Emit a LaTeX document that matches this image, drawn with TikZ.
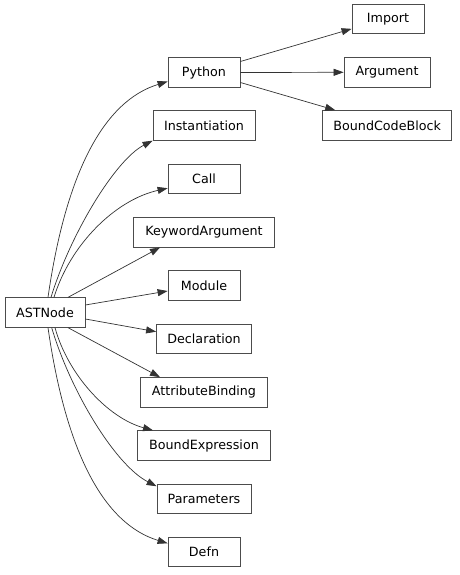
\documentclass[tikz,border=0pt]{standalone}
\usepackage{fontspec}
\setmainfont{DejaVu Sans}
\usetikzlibrary{arrows.meta}
\begin{document}
\begin{tikzpicture}[x=1pt,y=-1pt,
  box/.style={draw=black!70, line width=0.8pt, minimum height=29.5pt, inner sep=0pt,
    font=\fontsize{12.7}{14}\selectfont, text=black},
  edge/.style={draw=black!80, line width=0.7pt, -{Triangle[length=10pt,width=7pt]}}]
\path[use as bounding box] (0,0) rectangle (459,575);
\node[box, minimum width=80pt] (ast) at (45,312.5) {ASTNode};
\node[box, minimum width=72pt] (python) at (204,72.5) {Python};
\node[box, minimum width=102pt] (inst) at (204,125.5) {Instantiation};
\node[box, minimum width=72pt] (call) at (204,178.7) {Call};
\node[box, minimum width=141pt] (kw) at (204,232.3) {KeywordArgument};
\node[box, minimum width=72pt] (module) at (204,285.5) {Module};
\node[box, minimum width=95pt] (decl) at (204,338.7) {Declaration};
\node[box, minimum width=127pt] (attr) at (204,392.3) {AttributeBinding};
\node[box, minimum width=133pt] (bexpr) at (204,445.5) {BoundExpression};
\node[box, minimum width=94pt] (params) at (204,498.7) {Parameters};
\node[box, minimum width=72pt] (defn) at (204,552) {Defn};
\node[box, minimum width=72pt] (import) at (388,18.7) {Import};
\node[box, minimum width=86pt] (arg) at (387,72.3) {Argument};
\node[box, minimum width=129pt] (bcb) at (387.2,125.3) {BoundCodeBlock};
% edges from ASTNode
\draw[edge] ([xshift=3pt]ast.north) .. controls (66,172) and (104,101) .. ([yshift=-9pt]python.west);
\draw[edge] ([xshift=6pt]ast.north) .. controls (70,235) and (115,160) .. (inst.south west);
\draw[edge] ([xshift=9pt]ast.north) .. controls (70,245) and (115,200) .. ([yshift=-9.5pt]call.west);
\draw[edge] ([xshift=23pt]ast.north) -- ([xshift=-44pt]kw.south);
\draw[edge] ([yshift=7.5pt]ast.east) -- ([yshift=-5.5pt]module.west);
\draw[edge] ([yshift=-6.5pt]ast.east) -- ([yshift=7pt]decl.west);
\draw[edge] ([xshift=23pt]ast.south) -- ([xshift=-44pt]attr.north);
\draw[edge] ([xshift=10pt]ast.south) .. controls (68,375) and (108,418) .. ([xshift=-51pt]bexpr.north);
\draw[edge] ([xshift=6.7pt]ast.south) .. controls (70,390) and (115,465) .. ([yshift=-2.7pt]params.north west);
\draw[edge] ([xshift=3pt]ast.south) .. controls (66,453) and (104,524) .. ([yshift=8.7pt]defn.west);
% edges from Python
\draw[edge] ([yshift=11pt]python.east) -- ([yshift=5pt]import.south west);
\draw[edge] (python.east) -- (arg.west);
\draw[edge] ([yshift=-10pt]python.east) -- ([xshift=-52pt]bcb.north);
\end{tikzpicture}
\end{document}
